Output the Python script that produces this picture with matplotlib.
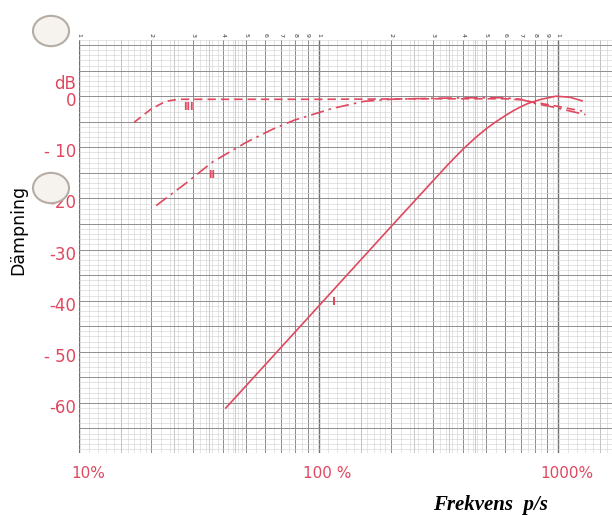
import numpy as np
import matplotlib
matplotlib.use("Agg")
import matplotlib.pyplot as plt
import matplotlib.transforms as mtransforms
from matplotlib.patches import Circle

# curve I (solid)
freq_I = [41, 100, 200, 300, 350, 400, 450, 500, 550, 600, 650, 700, 750, 850, 980, 1120, 1260]
db_I = [-61, -41.1, -25.6, -16.6, -13.2, -10.4, -8.2, -6.4, -5.0, -3.85, -2.85, -2.05, -1.4, -0.6, 0.0, -0.2, -0.9]

# curve II (long dash)
freq_II = [21, 28, 36, 50, 64, 79, 114, 155, 200, 300, 450, 600, 700, 800, 950, 1100, 1300]
db_II = [-21.4, -17.0, -12.9, -9.0, -6.5, -4.7, -2.4, -1.0, -0.6, -0.4, -0.3, -0.3, -0.6, -1.4, -2.1, -2.8, -3.6]

# curve III (short dash)
freq_III = [17, 20, 23, 26, 30, 100, 300, 600, 700, 800, 1000, 1260]
db_III = [-5.1, -2.5, -1.0, -0.6, -0.6, -0.6, -0.5, -0.5, -0.7, -1.2, -2.0, -2.9]

y_ticks = [0, -10, -20, -30, -40, -50, -60]
y_labels = ["0", "- 10", "-20", "-30", "-40", "- 50", "-60"]
x_ticks = [10, 100, 1000]
x_labels = ["10%", "100 %", "1000%"]
top_digits = [1, 2, 3, 4, 5, 6, 7, 8, 9]

red = "#e0485f"
fig = plt.figure(figsize=(6.12, 5.15), dpi=100)
ax = fig.add_axes([79 / 612, 62 / 515, 533 / 612, 413 / 515])
ax.set_xscale("log")
ax.set_xlim(10, 1680)
ax.set_ylim(-69.8, 11.0)

# graph paper grid
fine = list(np.arange(1.1, 2.0, 0.1)) + list(np.arange(2.2, 5.0, 0.2)) + list(np.arange(5.5, 10.0, 0.5))
for dec in [10, 100, 1000]:
    for m in fine:
        ax.axvline(dec * m, color="#d2d2d2", lw=0.4, zorder=0)
    for m in [1.5, 2.5, 3.5, 4.5]:
        ax.axvline(dec * m, color="#b4b4b4", lw=0.5, zorder=0)
    for m in range(2, 10):
        ax.axvline(dec * m, color="#8c8c8c", lw=0.7, zorder=0)
    ax.axvline(dec, color="#707070", lw=1.0, zorder=0)
for v in range(-70, 12):
    ax.axhline(v, color="#d0d0d0", lw=0.4, zorder=0)
for v in range(-65, 11, 5):
    ax.axhline(v, color="#8f8f8f", lw=0.7, zorder=0)

ax.plot(freq_I, db_I, color=red, lw=1.2)
ax.plot(freq_II, db_II, color=red, lw=1.2, dashes=(8, 3, 1.5, 3))
ax.plot(freq_III, db_III, color=red, lw=1.2, dashes=(5, 3))

ax.text(28.5, -2.2, "III", color=red, fontsize=7, fontweight="bold", ha="center", va="center")
ax.text(35.8, -15.5, "II", color=red, fontsize=7, fontweight="bold", ha="center", va="center")
ax.text(116, -40.2, "I", color=red, fontsize=8, fontweight="bold", ha="center", va="center")

for s in ax.spines.values():
    s.set_visible(False)

ax.set_yticks(y_ticks)
ax.set_yticklabels(y_labels, color=red, fontsize=12)
ax.set_xticks(x_ticks)
ax.set_xticklabels(x_labels, color=red, fontsize=11)
ax.xaxis.set_minor_locator(matplotlib.ticker.NullLocator())
ax.tick_params(length=0)
ax.tick_params(axis="y", pad=2)
ax.tick_params(axis="x", pad=9)
shift = mtransforms.ScaledTranslation(9 / 100, 0, fig.dpi_scale_trans)
for lab in ax.get_xticklabels():
    lab.set_transform(lab.get_transform() + shift)
yshift = mtransforms.ScaledTranslation(0, -3 / 100, fig.dpi_scale_trans)
for lab in ax.get_yticklabels():
    lab.set_transform(lab.get_transform() + yshift)

trans = mtransforms.blended_transform_factory(ax.transAxes, ax.transData)
ax.text(-0.006, 2.4, "dB", color=red, fontsize=12, ha="right", va="center", transform=trans)

# small rotated digits along the top edge
top = ax.secondary_xaxis("top")
top_pos = [d * dec for dec in [10, 100] for d in top_digits] + [1000]
top.set_xticks(top_pos)
top.set_xticklabels([str(d) for d in top_digits] * 2 + ["1"], fontsize=4.5, rotation=-90, color="#333333")
top.xaxis.set_minor_locator(matplotlib.ticker.NullLocator())
top.tick_params(length=0, pad=2)
top.spines["top"].set_visible(False)

fig.text(18 / 612, 1 - 230 / 515, "Dämpning", rotation=90, fontsize=12.5, ha="center", va="center")
fig.text(490 / 612, 1 - 505 / 515, "Frekvens  p/s", fontsize=15, family="Liberation Serif",
         style="italic", fontweight="bold", ha="center", va="center")

# punch holes of the scanned sheet
for cy in [31, 188]:
    fig.patches.append(Circle((51 / 612, 1 - cy / 515), 18 / 612, transform=fig.transFigure,
                              facecolor="#f6f2ee", edgecolor="#b5aca4", lw=1.5))

fig.savefig("out.png", dpi=100)
